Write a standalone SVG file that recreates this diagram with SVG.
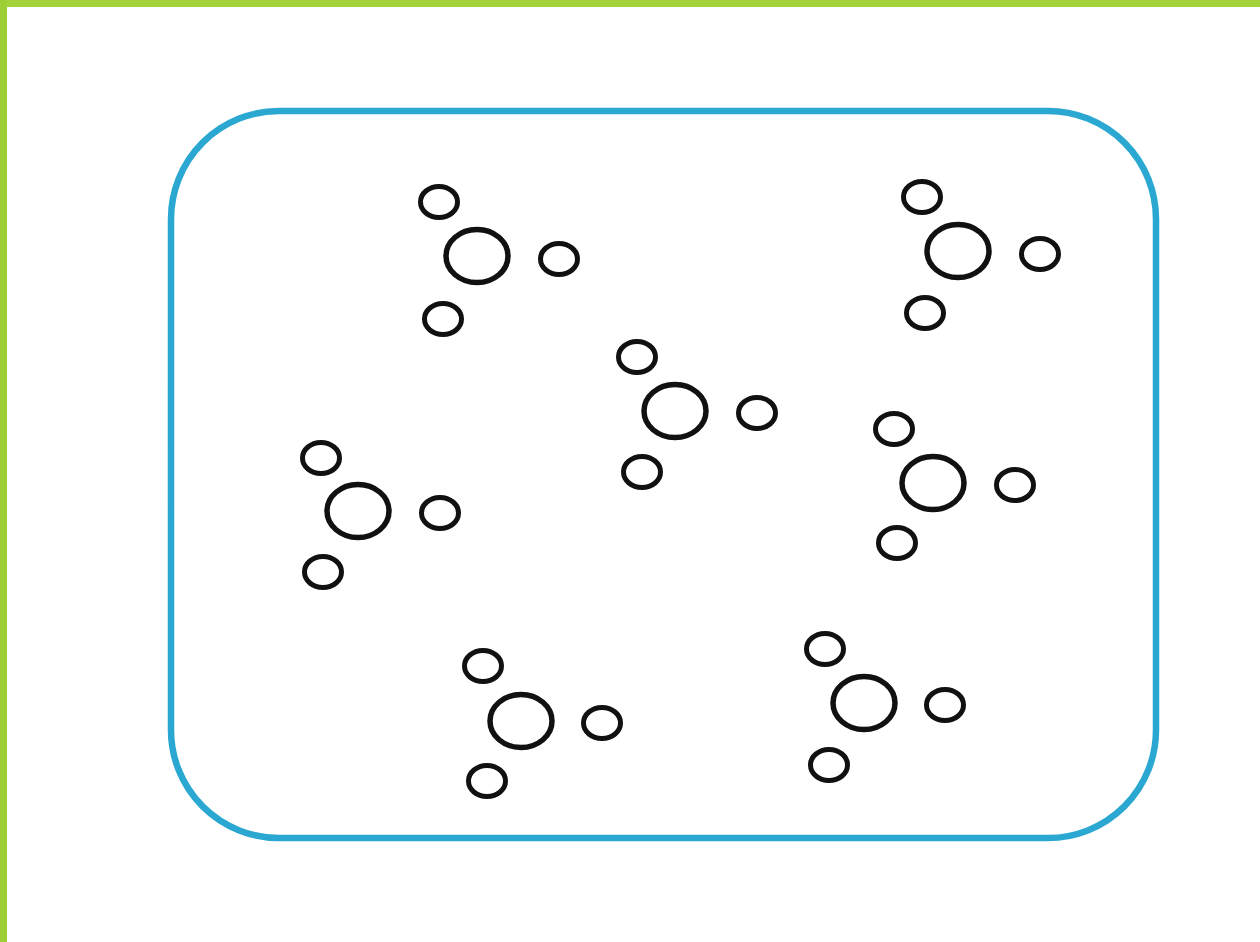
<svg xmlns="http://www.w3.org/2000/svg" width="1260" height="942" viewBox="0 0 1260 942">
  <style>
    .frame { fill: none; stroke: #2aa8d2; stroke-width: 6.5; }
    .big { fill: none; stroke: #111; stroke-width: 5.5; }
    .small { fill: none; stroke: #111; stroke-width: 5; }
  </style>
  <rect x="0" y="0" width="1260" height="942" fill="#ffffff"/>
  <rect x="0" y="0" width="1260" height="7" fill="#a3d23b"/>
  <rect x="0" y="0" width="7" height="942" fill="#9fcf36"/>
  <rect id="container" class="frame" x="171" y="111" width="985" height="727" rx="108" ry="108"/>

  <g id="molecule-1">
    <ellipse class="big" cx="477" cy="256" rx="31" ry="26.5"/>
    <ellipse class="small" cx="439" cy="202" rx="18.5" ry="15.5"/>
    <ellipse class="small" cx="559" cy="259" rx="18.5" ry="15.5"/>
    <ellipse class="small" cx="443" cy="319" rx="18.5" ry="15.5"/>
  </g>
  <g id="molecule-2">
    <ellipse class="big" cx="958" cy="251" rx="31" ry="26.5"/>
    <ellipse class="small" cx="922" cy="197" rx="18.5" ry="15.5"/>
    <ellipse class="small" cx="1040" cy="254" rx="18.5" ry="15.5"/>
    <ellipse class="small" cx="925" cy="313" rx="18.5" ry="15.5"/>
  </g>
  <g id="molecule-3">
    <ellipse class="big" cx="675" cy="411" rx="31" ry="26.5"/>
    <ellipse class="small" cx="637" cy="357" rx="18.5" ry="15.5"/>
    <ellipse class="small" cx="757" cy="413" rx="18.5" ry="15.5"/>
    <ellipse class="small" cx="642" cy="472" rx="18.5" ry="15.5"/>
  </g>
  <g id="molecule-4">
    <ellipse class="big" cx="358" cy="511" rx="31" ry="26.5"/>
    <ellipse class="small" cx="321" cy="458" rx="18.5" ry="15.5"/>
    <ellipse class="small" cx="440" cy="513" rx="18.5" ry="15.5"/>
    <ellipse class="small" cx="323" cy="572" rx="18.5" ry="15.5"/>
  </g>
  <g id="molecule-5">
    <ellipse class="big" cx="933" cy="483" rx="31" ry="26.5"/>
    <ellipse class="small" cx="894" cy="429" rx="18.5" ry="15.5"/>
    <ellipse class="small" cx="1015" cy="485" rx="18.5" ry="15.5"/>
    <ellipse class="small" cx="897" cy="543" rx="18.5" ry="15.5"/>
  </g>
  <g id="molecule-6">
    <ellipse class="big" cx="521" cy="721" rx="31" ry="26.5"/>
    <ellipse class="small" cx="483" cy="666" rx="18.5" ry="15.5"/>
    <ellipse class="small" cx="602" cy="723" rx="18.5" ry="15.5"/>
    <ellipse class="small" cx="487" cy="781" rx="18.5" ry="15.5"/>
  </g>
  <g id="molecule-7">
    <ellipse class="big" cx="864" cy="703" rx="31" ry="26.5"/>
    <ellipse class="small" cx="825" cy="649" rx="18.5" ry="15.5"/>
    <ellipse class="small" cx="945" cy="705" rx="18.5" ry="15.5"/>
    <ellipse class="small" cx="829" cy="765" rx="18.5" ry="15.5"/>
  </g>
</svg>
